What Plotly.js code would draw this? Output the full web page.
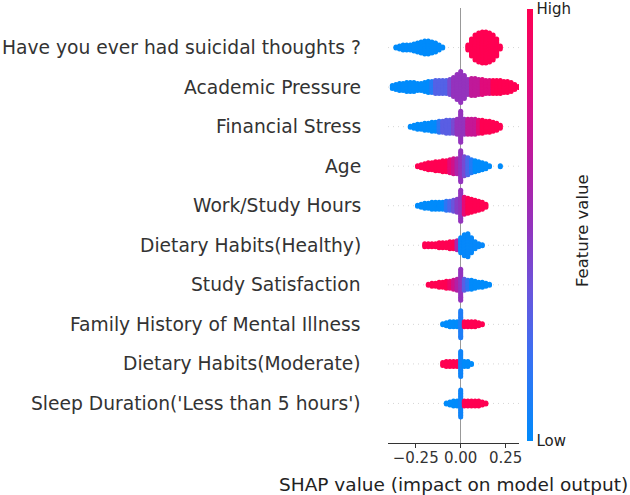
<!DOCTYPE html>
<html>
<head>
<meta charset="utf-8">
<script src="https://cdn.plot.ly/plotly-3.0.1.min.js"></script>
<style>
  html, body { margin: 0; padding: 0; background: #ffffff; }
  #chart { width: 630px; height: 495px; }
</style>
</head>
<body>
<div id="chart"></div>
<script>
// Feature names, top row first
const FEATURES = [
  "Have you ever had suicidal thoughts ?",
  "Academic Pressure",
  "Financial Stress",
  "Age",
  "Work/Study Hours",
  "Dietary Habits(Healthy)",
  "Study Satisfaction",
  "Family History of Mental Illness",
  "Dietary Habits(Moderate)",
  "Sleep Duration('Less than 5 hours')"
];

// SHAP value bins (centres) shared by every feature row
const BIN_SHAP = [-0.40,-0.38,-0.36,-0.34,-0.32,-0.30,-0.28,-0.26,-0.24,-0.22,
                  -0.20,-0.18,-0.16,-0.14,-0.12,-0.10,-0.08,-0.06,-0.04,-0.02,
                   0.00, 0.02, 0.04, 0.06, 0.08, 0.10, 0.12, 0.14, 0.16, 0.18,
                   0.20, 0.22, 0.24, 0.26, 0.28, 0.30, 0.32];

// Sample density per bin, and mean (normalised) feature value per bin
const suicidalCounts = [0,0,4,8,12,12,12,16,20,24, 28,28,24,20,12,4,0,0,0,0, 0,0,12,36,52,60,64,64,60,52, 36,8,0,0,0,0,0];
const suicidalValues = [0,0,0,0,0,0,0,0,0,0, 0,0,0,0,0,0,0,0,0,0, 0,0,1,1,1,1,1,1,1,1, 1,1,1,1,1,1,1];

const academicCounts = [0,8,12,16,16,20,20,20,16,16, 20,24,24,28,28,28,28,32,40,52, 64,48,32,36,36,32,32,28,28,28, 28,28,24,24,20,12,4];
const academicValues = [0,0,0,0,0,0,0,0,0,0, 0,0,0.12,0.28,0.28,0.28,0.28,0.4,0.5,0.5, 0.5,0.5,0.5,0.68,0.68,0.68,0.82,0.82,0.82,1, 1,1,1,1,1,1,1];

const financialCounts = [0,0,0,0,0,0,4,8,12,12, 16,16,20,20,24,24,28,28,28,32, 64,32,32,32,32,28,28,24,24,20, 16,8,0,0,0,0,0];
const financialValues = [0,0,0,0,0,0,0,0,0,0, 0,0,0,0,0.15,0.3,0.3,0.3,0.4,0.5, 0.5,0.5,0.7,0.7,0.7,0.85,1,1,1,1, 1,1,1,1,1,1,1];

const ageCounts = [0,0,0,0,0,0,0,0,4,8, 12,16,16,20,20,24,24,28,32,32, 64,40,36,28,24,20,16,12,4,0, 0,4,0,0,0,0,0];
const ageValues = [1,1,1,1,1,1,1,1,1,1, 1,1,1,1,1,1,1,0.85,0.75,0.6, 0.5,0.4,0.25,0.12,0,0,0,0,0,0, 0,0,0,0,0,0,0];

const workCounts = [0,0,0,0,0,0,0,0,4,8, 12,12,16,16,16,16,20,20,24,28, 64,36,32,28,24,20,16,8,0,0, 0,0,0,0,0,0,0];
const workValues = [0,0,0,0,0,0,0,0,0,0, 0,0,0,0,0,0,0.15,0.25,0.35,0.45, 0.5,0.85,1,1,1,1,1,1,1,1, 1,1,1,1,1,1,1];

const healthyCounts = [0,0,0,0,0,0,0,0,0,0, 8,8,8,8,12,12,12,16,16,20, 32,44,48,32,16,8,4,0,0,0, 0,0,0,0,0,0,0];
const healthyValues = [1,1,1,1,1,1,1,1,1,1, 1,1,1,1,1,1,1,1,1,0.6, 0.02,0.02,0.02,0.02,0.02,0.02,0.02,0.02,0.02,0.02, 0.02,0.02,0.02,0.02,0.02,0.02,0.02];

const satisfactionCounts = [0,0,0,0,0,0,0,0,0,0, 0,4,8,8,12,12,16,16,20,24, 64,24,20,20,16,12,12,8,4,0, 0,0,0,0,0,0,0];
const satisfactionValues = [1,1,1,1,1,1,1,1,1,1, 1,1,1,1,1,1,1,0.9,0.75,0.62, 0.5,0.3,0.15,0,0,0,0,0,0,0, 0,0,0,0,0,0,0];

const familyCounts = [0,0,0,0,0,0,0,0,0,0, 0,0,0,0,0,4,8,12,12,12, 56,12,12,12,12,8,4,0,0,0, 0,0,0,0,0,0,0];
const familyValues = [0,0,0,0,0,0,0,0,0,0, 0,0,0,0,0,0,0,0,0,0, 0.1,1,1,1,1,1,1,1,1,1, 1,1,1,1,1,1,1];

const moderateCounts = [0,0,0,0,0,0,0,0,0,0, 0,0,0,0,0,8,12,12,12,12, 52,12,12,4,0,0,0,0,0,0, 0,0,0,0,0,0,0];
const moderateValues = [1,1,1,1,1,1,1,1,1,1, 1,1,1,1,1,1,1,1,1,1, 0.05,0,0,0,0,0,0,0,0,0, 0,0,0,0,0,0,0];

const sleepCounts = [0,0,0,0,0,0,0,0,0,0, 0,0,0,0,0,0,4,8,12,12, 56,12,12,12,12,12,8,4,0,0, 0,0,0,0,0,0,0];
const sleepValues = [0,0,0,0,0,0,0,0,0,0, 0,0,0,0,0,0,0,0,0,0, 0.05,1,1,1,1,1,1,1,1,1, 1,1,1,1,1,1,1];

const ROW_COUNTS = [suicidalCounts, academicCounts, financialCounts, ageCounts, workCounts,
                    healthyCounts, satisfactionCounts, familyCounts, moderateCounts, sleepCounts];
const ROW_VALUES = [suicidalValues, academicValues, financialValues, ageValues, workValues,
                    healthyValues, satisfactionValues, familyValues, moderateValues, sleepValues];

// Red-blue feature value colour map
const RED_BLUE = [
  [0.00, '#008bfb'], [0.20, '#3b70f2'], [0.35, '#6a55dc'], [0.50, '#9433bd'],
  [0.65, '#b91c9f'], [0.80, '#dd0c80'], [1.00, '#ff0052']
];

// Page geometry
const W = 630, H = 495;
const M = { l: 388, r: 111, t: 8, b: 52 };
const plotH = H - M.t - M.b;
const nRows = FEATURES.length;
const pxPerRow = plotH / (nRows + 1);   // y spans [-1, n]

// Swarm layout: each bin becomes a vertical pile whose height follows its density
const xs = [], ys = [], cs = [];
ROW_COUNTS.forEach((counts, r) => {
  const yRow = nRows - 1 - r;
  counts.forEach((c, i) => {
    if (!c) return;
    const ext = Math.max(0, c / 4 - 0.5);       // half-spread in px
    const k = Math.max(1, Math.ceil(2 * ext / 1.6) + 1);
    for (let j = 0; j < k; j++) {
      const off = k === 1 ? 0 : -ext + (2 * ext * j) / (k - 1);
      xs.push(BIN_SHAP[i]);
      ys.push(yRow + off / pxPerRow);
      cs.push(ROW_VALUES[r][i]);
    }
  });
});

const FONT = 'DejaVu Sans, Liberation Sans, sans-serif';

const trace = {
  type: 'scatter',
  mode: 'markers',
  x: xs, y: ys,
  hoverinfo: 'skip',
  marker: {
    size: 5,
    color: cs,
    cmin: 0, cmax: 1,
    colorscale: RED_BLUE,
    line: { width: 0 },
    showscale: true,
    colorbar: {
      xref: 'container', x: 527 / W, xanchor: 'left', xpad: 0,
      yref: 'container', y: 1 - 10 / H, yanchor: 'top', ypad: 0,
      lenmode: 'pixels', len: 432,
      thicknessmode: 'pixels', thickness: 6,
      outlinewidth: 0,
      tickvals: [0, 1], ticktext: ['Low', 'High'],
      ticks: '', ticklen: 0,
      tickfont: { family: FONT, size: 15, color: '#222222' }
    }
  }
};

// Dotted guide line for each feature row
const shapes = FEATURES.map((_, r) => ({
  type: 'line', xref: 'paper', yref: 'y', layer: 'below',
  x0: 0, x1: 1, y0: nRows - 1 - r, y1: nRows - 1 - r,
  line: { color: '#cccccc', width: 0.8, dash: '1px,4px' }
}));

const annotations = FEATURES.map((name, r) => ({
  text: name, xref: 'paper', yref: 'y', x: 0, y: nRows - 1 - r,
  xanchor: 'right', yanchor: 'middle', xshift: -25, showarrow: false,
  font: { family: FONT, size: 18.7, color: '#333333' }
}));
annotations.push({
  text: 'SHAP value (impact on model output)', xref: 'paper', yref: 'paper',
  x: 0.5, y: 0, xanchor: 'center', yanchor: 'top', yshift: -29, showarrow: false,
  font: { family: FONT, size: 18.5, color: '#222222' }
});
annotations.push({
  text: 'Feature value', xref: 'paper', yref: 'paper',
  x: (582 - M.l) / (W - M.l - M.r), y: (H - M.b - 231) / plotH,
  xanchor: 'center', yanchor: 'middle', textangle: -90, showarrow: false,
  font: { family: FONT, size: 16.5, color: '#222222' }
});

const layout = {
  width: W, height: H,
  margin: M,
  paper_bgcolor: '#ffffff', plot_bgcolor: '#ffffff',
  showlegend: false,
  xaxis: {
    range: [-0.404, 0.324],
    tickvals: [-0.25, 0, 0.25], tickformat: '.2f',
    ticks: 'outside', ticklen: 4, tickwidth: 1.2, tickcolor: '#333333',
    ticklabelstandoff: -3,
    showline: true, linecolor: '#333333', linewidth: 1.2,
    showgrid: false,
    zeroline: true, zerolinecolor: '#999999', zerolinewidth: 1.4,
    tickfont: { family: FONT, size: 15, color: '#333333' },
    fixedrange: true
  },
  yaxis: {
    range: [-1, nRows],
    showticklabels: false, showgrid: false, zeroline: false, showline: false,
    ticks: '', fixedrange: true
  },
  shapes: shapes,
  annotations: annotations
};

Plotly.newPlot('chart', [trace], layout, { displayModeBar: false, staticPlot: true });
</script>
</body>
</html>
